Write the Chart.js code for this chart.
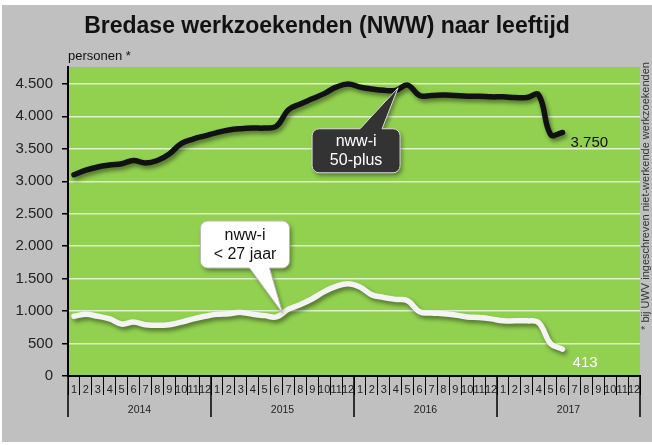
<!DOCTYPE html>
<html>
<head>
<meta charset="utf-8">
<script src="https://cdn.jsdelivr.net/npm/chart.js@4"></script>
<style>
  html, body { margin: 0; padding: 0; background: #fff; }
</style>
</head>
<body>
<canvas id="myChart" width="652" height="445"></canvas>
<script>
const years = ["2014", "2015", "2016", "2017"];
const months = ["1", "2", "3", "4", "5", "6", "7", "8", "9", "10", "11", "12"];
// nww-i 50-plus, jan 2014 - jun 2017
const plus50 = [3100, 3170, 3220, 3250, 3270, 3320, 3280, 3320, 3420, 3580, 3650, 3700,
                3750, 3790, 3810, 3820, 3820, 3850, 4100, 4190, 4270, 4350, 4450, 4500,
                4450, 4420, 4400, 4400, 4480, 4320, 4320, 4330, 4320, 4310, 4310, 4300,
                4300, 4290, 4290, 4330, 3720, 3750];
// nww-i < 27 jaar
const under27 = [920, 950, 920, 880, 800, 830, 790, 780, 790, 830, 880, 920,
                 950, 960, 980, 950, 930, 910, 1030, 1100, 1190, 1300, 1380, 1420,
                 1370, 1250, 1210, 1180, 1160, 990, 970, 960, 940, 910, 900, 880,
                 850, 850, 850, 820, 500, 413];
const yTicks = [0, 500, 1000, 1500, 2000, 2500, 3000, 3500, 4000, 4500];
const yMax = 4760;

const labels = [];
years.forEach(y => months.forEach(m => labels.push(m)));

function nl(v) {
  return String(v).replace(/\B(?=(\d{3})+(?!\d))/g, ".");
}

const FONT = "'Liberation Sans', Arial, sans-serif";

const background = {
  id: "background",
  beforeDraw(chart) {
    const ctx = chart.ctx, a = chart.chartArea;
    ctx.save();
    ctx.fillStyle = "#c0c0c0";
    ctx.fillRect(2, 5, 650, 437);
    ctx.fillStyle = "#92d050";
    ctx.fillRect(a.left, a.top, a.right - a.left, a.bottom - a.top);
    // title + unit
    ctx.fillStyle = "#111";
    ctx.font = "bold 23px " + FONT;
    ctx.textAlign = "center";
    ctx.textBaseline = "middle";
    ctx.fillText("Bredase werkzoekenden (NWW) naar leeftijd", 327, 27);
    ctx.font = "13px " + FONT;
    ctx.textAlign = "left";
    ctx.fillText("personen *", a.left, 56);
    // side note
    ctx.translate(646, 196);
    ctx.rotate(-Math.PI / 2);
    ctx.textAlign = "center";
    ctx.font = "11px " + FONT;
    ctx.fillStyle = "#333";
    ctx.fillText("* bij UWV ingeschreven niet-werkende werkzoekenden", 0, 0);
    ctx.restore();
  }
};

const shadow = {
  id: "shadow",
  beforeDatasetsDraw(chart) {
    const ctx = chart.ctx;
    ctx.save();
    ctx.shadowColor = "rgba(0,0,0,0.45)";
    ctx.shadowBlur = 4;
    ctx.shadowOffsetX = 2;
    ctx.shadowOffsetY = 3;
  },
  afterDatasetsDraw(chart) {
    chart.ctx.restore();
  }
};

function callout(ctx, box, tip, baseX1, baseX2, onTop, fill, stroke, textColor, lines) {
  const r = 7, l = box.x, t = box.y, rr = box.x + box.w, b = box.y + box.h;
  ctx.save();
  ctx.beginPath();
  ctx.moveTo(l + r, t);
  if (onTop) {
    ctx.lineTo(baseX1, t);
    ctx.lineTo(tip.x, tip.y);
    ctx.lineTo(baseX2, t);
  }
  ctx.arcTo(rr, t, rr, b, r);
  ctx.arcTo(rr, b, l, b, r);
  if (!onTop) {
    ctx.lineTo(baseX2, b);
    ctx.lineTo(tip.x, tip.y);
    ctx.lineTo(baseX1, b);
  }
  ctx.arcTo(l, b, l, t, r);
  ctx.arcTo(l, t, rr, t, r);
  ctx.closePath();
  ctx.shadowColor = "rgba(0,0,0,0.4)";
  ctx.shadowBlur = 4;
  ctx.shadowOffsetX = 2;
  ctx.shadowOffsetY = 3;
  ctx.fillStyle = fill;
  ctx.fill();
  ctx.shadowColor = "transparent";
  ctx.strokeStyle = stroke;
  ctx.lineWidth = 1;
  ctx.stroke();
  ctx.fillStyle = textColor;
  ctx.font = "16px " + FONT;
  ctx.textAlign = "center";
  ctx.textBaseline = "middle";
  const cx = l + box.w / 2;
  ctx.fillText(lines[0], cx, t + box.h / 2 - 9);
  ctx.fillText(lines[1], cx, t + box.h / 2 + 10);
  ctx.restore();
}

const annotations = {
  id: "annotations",
  afterDraw(chart) {
    const ctx = chart.ctx, xs = chart.scales.x, ys = chart.scales.y;
    // year separators and labels
    ctx.save();
    ctx.strokeStyle = "#000";
    ctx.lineWidth = 1.5;
    for (let k = 0; k <= years.length; k++) {
      const x = Math.round(xs.getPixelForValue(k * 12 - 0.5));
      ctx.beginPath();
      ctx.moveTo(x, ys.bottom);
      ctx.lineTo(x, ys.bottom + 41);
      ctx.stroke();
    }
    ctx.fillStyle = "#222";
    ctx.font = "10.5px " + FONT;
    ctx.textAlign = "center";
    ctx.textBaseline = "middle";
    years.forEach((y, k) => {
      ctx.fillText(y, xs.getPixelForValue(k * 12 + 5.5), ys.bottom + 34);
    });
    ctx.restore();

    // end values
    const n = plus50.length - 1;
    const pB = { x: xs.getPixelForValue(n), y: ys.getPixelForValue(plus50[n]) };
    const pW = { x: xs.getPixelForValue(n), y: ys.getPixelForValue(under27[n]) };
    ctx.save();
    ctx.font = "15px " + FONT;
    ctx.textBaseline = "middle";
    ctx.textAlign = "left";
    ctx.fillStyle = "#111";
    ctx.fillText(nl(plus50[n]), pB.x + 8, pB.y + 10);
    ctx.fillStyle = "#fff";
    ctx.fillText(nl(under27[n]), pW.x + 10, pW.y + 14);
    ctx.restore();

    // callouts
    const tB = { x: xs.getPixelForValue(27.2), y: ys.getPixelForValue((plus50[27] + plus50[28]) / 2) };
    callout(ctx, { x: tB.x - 86, y: tB.y + 41, w: 88, h: 44 }, tB,
            tB.x - 38, tB.x - 16, true, "#333", "#ddd", "#fff", ["nww-i", "50-plus"]);
    const tW = { x: xs.getPixelForValue(17.5), y: ys.getPixelForValue((under27[17] + under27[18]) / 2) };
    callout(ctx, { x: tW.x - 82, y: tW.y - 92, w: 89, h: 47 }, tW,
            tW.x - 33, tW.x - 13, false, "#fff", "#bbb", "#111", ["nww-i", "< 27 jaar"]);
  }
};

new Chart("myChart", {
  type: "line",
  data: {
    labels: labels,
    datasets: [{
      label: "nww-i 50-plus",
      data: plus50,
      borderColor: "#111",
      borderWidth: 5.5,
      tension: 0.4,
      pointRadius: 0,
      borderCapStyle: "round",
      borderJoinStyle: "round"
    }, {
      label: "nww-i < 27 jaar",
      data: under27,
      borderColor: "#f4f4f4",
      borderWidth: 5.5,
      tension: 0.4,
      pointRadius: 0,
      borderCapStyle: "round",
      borderJoinStyle: "round"
    }]
  },
  options: {
    responsive: false,
    animation: false,
    layout: { padding: { left: 0, top: 67, right: 12, bottom: 0 } },
    plugins: {
      legend: { display: false },
      tooltip: { enabled: false }
    },
    scales: {
      x: {
        offset: true,
        afterFit: s => { s.height = 69; },
        grid: { offset: true, drawOnChartArea: false, color: "#000", tickLength: 19, lineWidth: 1 },
        border: { color: "#000", width: 2 },
        ticks: { autoSkip: false, maxRotation: 0, padding: -12, color: "#222", font: { size: 11, family: FONT } }
      },
      y: {
        min: 0,
        max: yMax,
        afterFit: s => { s.width = 68; },
        afterBuildTicks: s => { s.ticks = yTicks.map(v => ({ value: v })); },
        grid: { color: "rgba(255,255,255,0.7)", lineWidth: 1.5, tickColor: "#000", tickLength: 6 },
        border: { color: "#000", width: 2 },
        ticks: { autoSkip: false, padding: 9, color: "#222", font: { size: 15, family: FONT }, callback: v => nl(v) }
      }
    }
  },
  plugins: [background, shadow, annotations]
});
</script>
</body>
</html>
